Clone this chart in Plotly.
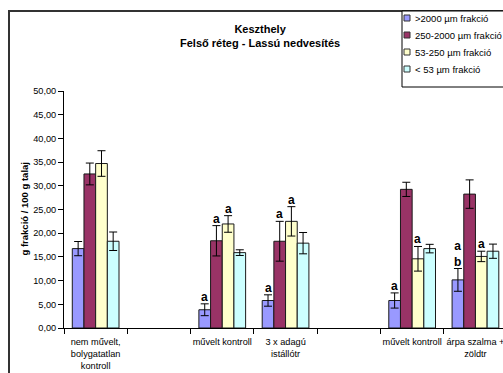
import plotly.graph_objects as go

# Treatments along the x axis (empty strings leave a gap between blocks)
categories = [
    "nem művelt,<br>bolygatatlan<br>kontroll",
    "",
    "művelt kontroll",
    "3 x adagú<br>istállótr",
    "",
    "művelt kontroll",
    "árpa szalma +<br>zöldtr",
]

series_names = [">2000 µm frakció", "250-2000 µm frakció", "53-250 µm frakció", "< 53 µm frakció"]
series_colors = ["#9999FF", "#993366", "#FFFFCC", "#CCFFFF"]

# g fraction / 100 g soil, with standard deviations
v_gt2000 = [16.75, None, 3.85, 5.8, None, 5.8, 10.15]
e_gt2000 = [1.5, None, 1.25, 1.2, None, 1.6, 2.4]
v_250_2000 = [32.5, None, 18.4, 18.3, None, 29.25, 28.25]
e_250_2000 = [2.3, None, 3.2, 4.2, None, 1.5, 3.0]
v_53_250 = [34.7, None, 21.95, 22.5, None, 14.6, 15.1]
e_53_250 = [2.7, None, 1.75, 3.1, None, 2.6, 1.1]
v_lt53 = [18.3, None, 15.9, 17.9, None, 16.75, 16.2]
e_lt53 = [1.95, None, 0.6, 2.25, None, 0.9, 1.5]

# significance letters above the bars
l_gt2000 = ["", "", "a", "a", "", "a", "a<br>b"]
l_250_2000 = ["", "", "a", "a", "", "", ""]
l_53_250 = ["", "", "a", "a", "", "a", "a"]
l_lt53 = ["", "", "", "", "", "", ""]

values = [v_gt2000, v_250_2000, v_53_250, v_lt53]
errors = [e_gt2000, e_250_2000, e_53_250, e_lt53]
letters = [l_gt2000, l_250_2000, l_53_250, l_lt53]

FONT = "Liberation Sans, Arial, sans-serif"
W, H = 503, 373
ML, MR, MT, MB = 64, 0, 91, 45
PW, PH = W - ML - MR, H - MT - MB
BARGAP = 0.262


def px_x(p):
    return (p - ML) / PW


def px_y(p):
    return (H - MB - p) / PH


xpos = list(range(len(categories)))

fig = go.Figure()
for name, color, vals, errs in zip(series_names, series_colors, values, errors):
    fig.add_trace(go.Bar(
        x=xpos, y=vals, name=name, showlegend=False,
        marker=dict(color=color, line=dict(color="#1a1a1a", width=1)),
        error_y=dict(type="data", array=errs, visible=True,
                     color="#000000", thickness=1, width=4),
    ))

annotations = []
bar_w = (1 - BARGAP) / len(series_names)
for i, (vals, errs, labs) in enumerate(zip(values, errors, letters)):
    off = (i - (len(series_names) - 1) / 2) * bar_w
    for k, (v, e, t) in enumerate(zip(vals, errs, labs)):
        if v is None or not t:
            continue
        annotations.append(dict(
            x=k + off, y=v + e, xref="x", yref="y", text=f"<b>{t}</b>",
            showarrow=False, yanchor="bottom", xanchor="center", yshift=-2,
            font=dict(family=FONT, size=12, color="#000000"),
        ))

# title
annotations.append(dict(
    x=px_x(260), y=px_y(36), xref="paper", yref="paper",
    text="<b>Keszthely<br>Felső réteg - Lassú nedvesítés</b>",
    showarrow=False, xanchor="center", yanchor="middle",
    font=dict(family=FONT, size=11, color="#000000"),
))

# y axis title
annotations.append(dict(
    x=px_x(24), y=0.5, xref="paper", yref="paper",
    text="<b>g frakció / 100 g talaj</b>", textangle=-90,
    showarrow=False, xanchor="center", yanchor="middle",
    font=dict(family=FONT, size=9.5, color="#000000"),
))

shapes = [
    # chart area border
    dict(type="rect", xref="paper", yref="paper",
         x0=px_x(9), x1=px_x(520), y0=px_y(390), y1=px_y(11),
         line=dict(color="#333333", width=2), fillcolor="rgba(0,0,0,0)", layer="below"),
    # legend box
    dict(type="rect", xref="paper", yref="paper",
         x0=px_x(402), x1=px_x(520), y0=px_y(87), y1=px_y(11),
         line=dict(color="#000000", width=1), fillcolor="#FFFFFF"),
]

legend_rows = [18, 35, 52, 69]
for name, color, row in zip(series_names, series_colors, legend_rows):
    shapes.append(dict(
        type="rect", xref="paper", yref="paper",
        x0=px_x(404), x1=px_x(410), y0=px_y(row + 3), y1=px_y(row - 3),
        line=dict(color="#333333", width=1), fillcolor=color,
    ))
    annotations.append(dict(
        x=px_x(412.5), y=px_y(row), xref="paper", yref="paper",
        text=name.replace("<", "&lt;").replace(">", "&gt;"),
        showarrow=False, xanchor="left", yanchor="middle",
        font=dict(family=FONT, size=9.5, color="#000000"),
    ))

fig.update_layout(
    width=W, height=H,
    margin=dict(l=ML, r=MR, t=MT, b=MB, pad=0),
    paper_bgcolor="#FFFFFF", plot_bgcolor="#FFFFFF",
    barmode="group", bargap=BARGAP, bargroupgap=0,
    separators=", ",
    showlegend=False,
    font=dict(family=FONT, size=9.2, color="#000000"),
    xaxis=dict(
        range=[-0.5, -0.5 + PW / 63.3],
        tickmode="array", tickvals=xpos, ticktext=categories,
        ticks="", showline=True, linecolor="#000000", linewidth=1,
        showgrid=False, zeroline=False,
        ticklabeloverflow="allow", ticklabelstandoff=5,
        tickfont=dict(family=FONT, size=9.2, color="#000000"),
        minor=dict(tickmode="array", tickvals=[k - 0.5 for k in range(len(categories) + 1)],
                   ticks="outside", ticklen=5, tickcolor="#000000", tickwidth=1, showgrid=False),
    ),
    yaxis=dict(
        range=[0, 50], tickmode="linear", tick0=0, dtick=5, tickformat=".2f",
        ticks="outside", ticklen=5, tickcolor="#000000", tickwidth=1,
        showline=True, linecolor="#000000", linewidth=1,
        showgrid=False, zeroline=False,
        tickfont=dict(family=FONT, size=9.2, color="#000000"),
    ),
    annotations=annotations,
    shapes=shapes,
)

fig.write_html("out.html")
